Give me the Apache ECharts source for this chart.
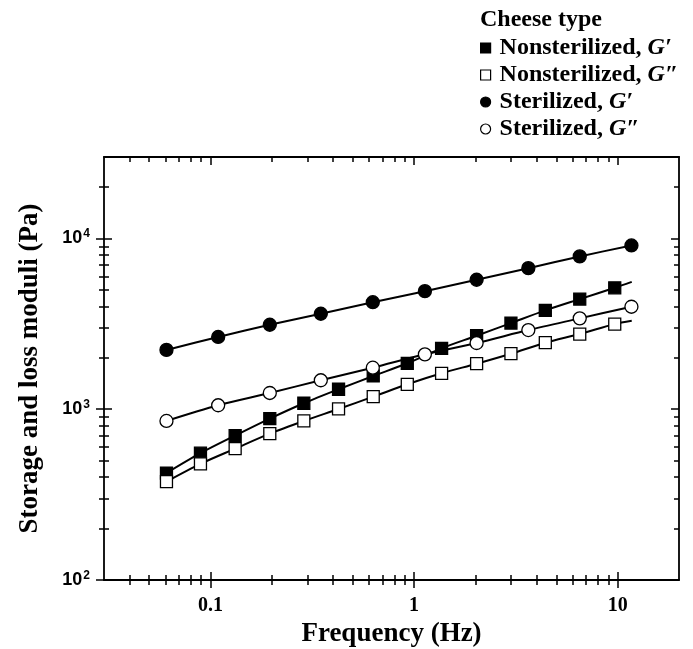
<!DOCTYPE html>
<html><head><meta charset="utf-8">
<script src="https://cdn.jsdelivr.net/npm/echarts@6/dist/echarts.min.js"></script>
<style>html,body{margin:0;padding:0;background:#fff}#c{width:693px;height:649px}</style>
</head><body><div id="c"></div>
<script>
// ---- data ----
const freqSquares = [0.0608,0.0893,0.1322,0.1956,0.2874,0.4256,0.630,0.926,1.365,2.028,2.99,4.41,6.51,9.67,11.72];
const nsStorage   = [423,553,701,881,1084,1309,1566,1858,2274,2694,3196,3793,4416,5142,5572];
const nsLoss      = [377,479,588,720,854,1004,1185,1400,1624,1848,2114,2452,2757,3154,3297];
const lineOnlyFrom = 14; // last square point is drawn only as the end of the curve
const freqCircles = [0.0608,0.1091,0.1956,0.3483,0.627,1.130,2.028,3.64,6.51,11.68];
const stStorage   = [2225,2650,3125,3625,4235,4915,5730,6700,7850,9100];
const stLoss      = [854,1055,1245,1478,1751,2097,2442,2909,3405,3984];
const seriesNames = ['Nonsterilized, G\u2032','Nonsterilized, G\u2033','Sterilized, G\u2032','Sterilized, G\u2033'];
const xMajorTicks = [0.1,1,10];
const xTickLabels = ['0.1','1','10'];
const xMinorTicks = [0.04,0.05,0.06,0.07,0.08,0.09,0.2,0.3,0.4,0.5,0.6,0.7,0.8,0.9,2,3,4,5,6,7,8,9];
const yMajorTicks = [100,1000,10000];
const yTickExp    = ['2','3','4'];
const yMinorTicks = [200,300,400,500,600,700,800,900,2000,3000,4000,5000,6000,7000,8000,9000,20000];
const xRange = [0.03,20];
const yRange = [100,30000];

const SERIF = 'Liberation Serif';
const SANS = 'Liberation Sans';
const BLACK = '#000';

function baseAxis(pos, range, extra){
  return Object.assign({
    type:'log', logBase:10, min:range[0], max:range[1], position:pos, gridIndex:0,
    axisLine:{show:false}, axisLabel:{show:false}, axisTick:{show:false},
    splitLine:{show:false}, minorTick:{show:false}, minorSplitLine:{show:false},
    axisPointer:{show:false}
  }, extra||{});
}
function ticks(values, len, inside){
  return {show:true, inside:inside, length:len, customValues:values, lineStyle:{color:BLACK, width:1.5}};
}
const lineAx = {show:true, lineStyle:{color:BLACK, width:1.8}};

const xAxes = [
  baseAxis('bottom', xRange, {
    axisLine:lineAx,
    axisTick:ticks(xMajorTicks, 8, true),
    axisLabel:{show:true, customValues:xMajorTicks, margin:16,
      formatter:function(v){ let best=0; xMajorTicks.forEach((t,i)=>{ if(Math.abs(Math.log10(t)-Math.log10(v))<Math.abs(Math.log10(xMajorTicks[best])-Math.log10(v))) best=i; }); return xTickLabels[best]; },
      fontFamily:SERIF, fontWeight:'bold', fontSize:20, color:BLACK},
    name:'Frequency (Hz)', nameLocation:'middle', nameGap:41,
    nameTextStyle:{fontFamily:SERIF, fontWeight:'bold', fontSize:27, color:BLACK}
  }),
  baseAxis('bottom', xRange, {axisTick:ticks(xMajorTicks, 8, false)}),
  baseAxis('bottom', xRange, {axisTick:ticks(xMinorTicks, 5, true)}),
  baseAxis('bottom', xRange, {axisTick:ticks(xMinorTicks, 5, false)}),
  baseAxis('top', xRange, {axisLine:lineAx, axisTick:ticks(xMajorTicks, 8, true)}),
  baseAxis('top', xRange, {axisTick:ticks(xMinorTicks, 5, true)})
];
const yAxes = [
  baseAxis('left', yRange, {
    axisLine:lineAx,
    axisTick:ticks(yMajorTicks, 8, true),
    axisLabel:{show:true, customValues:yMajorTicks, margin:14,
      formatter:function(v){ const k=Math.round(Math.log10(v)); const idx=yMajorTicks.findIndex(t=>Math.round(Math.log10(t))===k); return '{b|10}{s|'+yTickExp[idx]+'}'; },
      rich:{
        b:{fontFamily:SANS, fontWeight:'bold', fontSize:18, color:BLACK},
        s:{fontFamily:SANS, fontWeight:'bold', fontSize:12, color:BLACK, padding:[0,0,9,1]}
      }},
    name:'Storage and loss moduli (Pa)', nameLocation:'middle', nameGap:60,
    nameTextStyle:{fontFamily:SERIF, fontWeight:'bold', fontSize:27, color:BLACK}
  }),
  baseAxis('left', yRange, {axisTick:ticks(yMajorTicks, 8, false)}),
  baseAxis('left', yRange, {axisTick:ticks(yMinorTicks, 5, true)}),
  baseAxis('left', yRange, {axisTick:ticks(yMinorTicks, 5, false)}),
  baseAxis('right', yRange, {axisLine:lineAx, axisTick:ticks(yMajorTicks, 8, true)}),
  baseAxis('right', yRange, {axisTick:ticks(yMinorTicks, 5, true)})
];

function pts(xs, ys, cutFrom){
  return xs.map((x,i)=> (cutFrom!=null && i>=cutFrom) ? {value:[x,ys[i]], symbol:'none'} : [x,ys[i]]);
}
function lineSeries(name, data, symbol, size, filled){
  return {
    type:'line', name:name, data:data, xAxisIndex:0, yAxisIndex:0,
    symbol:symbol, symbolSize:size, smooth:0.3,
    lineStyle:{color:BLACK, width:2},
    itemStyle:{color:filled?BLACK:'#fff', borderColor:BLACK, borderWidth:1.3},
    emphasis:{disabled:true}
  };
}

const chart = echarts.init(document.getElementById('c'), null, {renderer:'canvas'});
chart.setOption({
  animation:false,
  backgroundColor:'#fff',
  grid:{left:104, right:14, top:157, bottom:69, containLabel:false, outerBoundsMode:'none'},
  title:{text:'Cheese type', left:480, top:8, padding:0,
    textStyle:{fontFamily:SERIF, fontWeight:'bold', fontSize:24, color:BLACK}},
  legend:{
    orient:'vertical', left:480, top:36, itemWidth:10, itemHeight:10, itemGap:3, padding:0,
    selectedMode:false,
    data:seriesNames.map((n,i)=>({name:n, icon:i<2?'rect':'circle',
      itemStyle:{color:(i%2===0)?BLACK:'#fff', borderColor:BLACK, borderWidth:1.2}})),
    formatter:function(n){ const p=n.split(', '); return '{n|'+p[0]+', }{g|'+p[1]+'}'; },
    textStyle:{rich:{
      n:{fontFamily:SERIF, fontWeight:'bold', fontSize:24, color:BLACK, padding:[0,0,0,4]},
      g:{fontFamily:SERIF, fontWeight:'bold', fontStyle:'italic', fontSize:24, color:BLACK}
    }}
  },
  xAxis:xAxes,
  yAxis:yAxes,
  series:[
    lineSeries(seriesNames[0], pts(freqSquares, nsStorage, lineOnlyFrom), 'rect', 12, true),
    lineSeries(seriesNames[1], pts(freqSquares, nsLoss, lineOnlyFrom), 'rect', 12, false),
    lineSeries(seriesNames[2], pts(freqCircles, stStorage), 'circle', 13, true),
    lineSeries(seriesNames[3], pts(freqCircles, stLoss), 'circle', 13, false)
  ]
});
</script></body></html>
